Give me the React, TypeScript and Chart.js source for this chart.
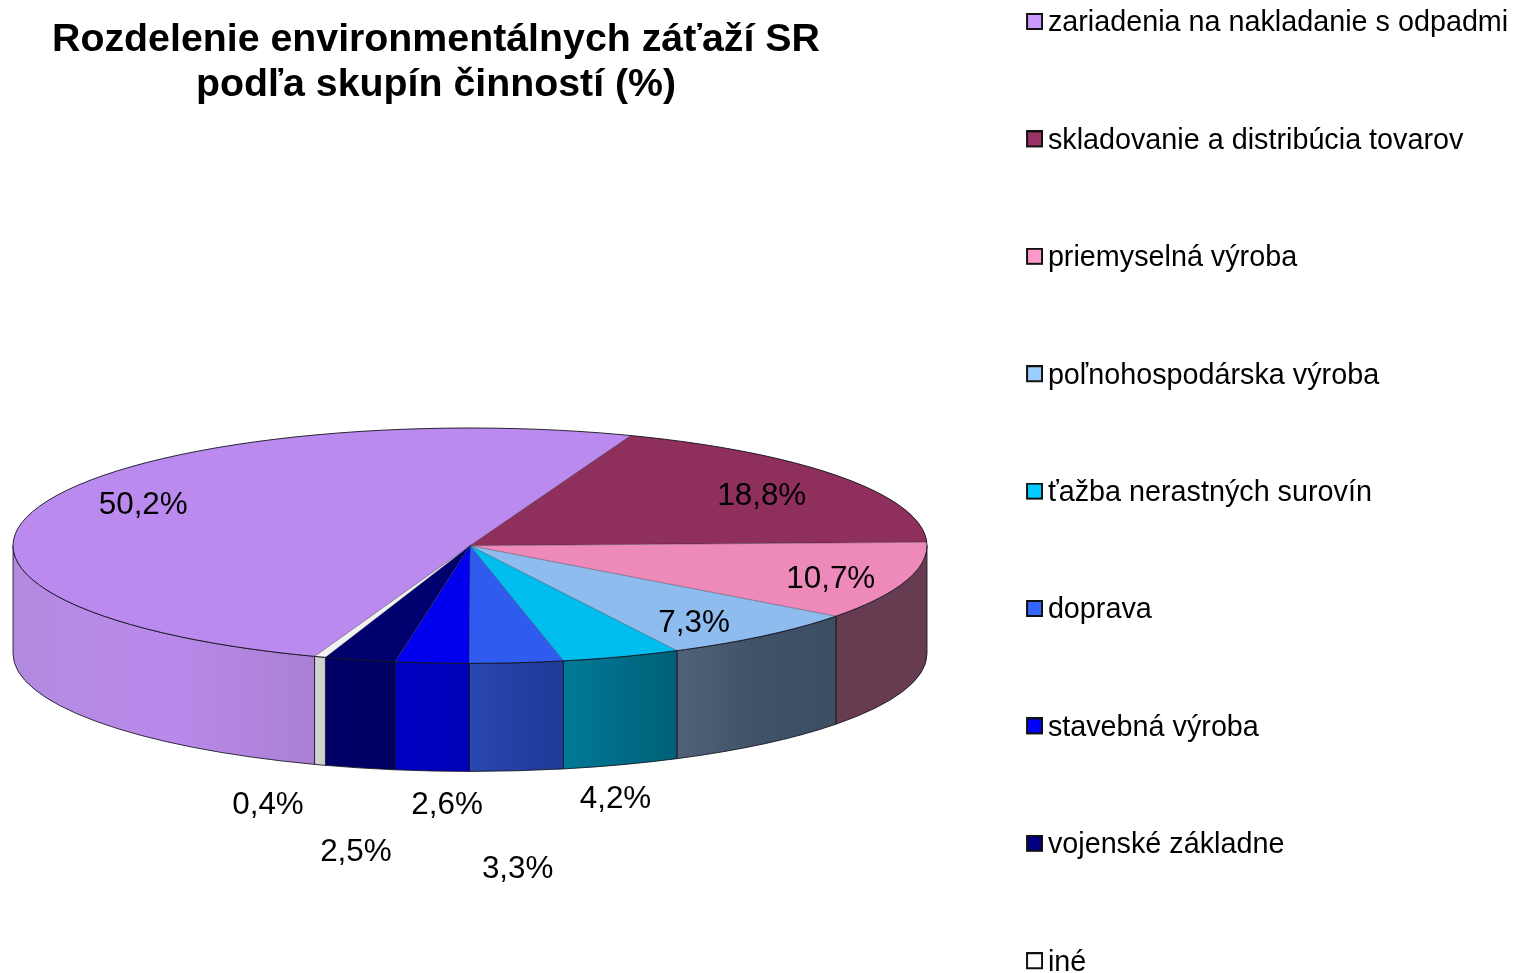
import React, { useEffect, useRef } from "react";
import { Chart, registerables } from "chart.js";

Chart.register(...registerables);

const titleLines = ["Rozdelenie environmentálnych záťaží SR", "podľa skupín činností (%)"];
const categories = [
  "zariadenia na nakladanie s odpadmi",
  "skladovanie a distribúcia tovarov",
  "priemyselná výroba",
  "poľnohospodárska výroba",
  "ťažba nerastných surovín",
  "doprava",
  "stavebná výroba",
  "vojenské základne",
  "iné",
];
const shares = [50.2, 18.8, 10.7, 7.3, 4.2, 3.3, 2.6, 2.5, 0.4];
const valueLabels = ["50,2%", "18,8%", "10,7%", "7,3%", "4,2%", "3,3%", "2,6%", "2,5%", "0,4%"];

const topColors = ["#BA8AEE", "#8E2F5C", "#EE8ABA", "#8FBCEE", "#00BDEE", "#2F5CEE", "#0000EE", "#00006E", "#F2F2F2"];
const legendColors = ["#CC99FF", "#993366", "#FF99CC", "#99CCFF", "#00CCFF", "#3366FF", "#0000FF", "#000080", "#FFFFFF"];
const sideColors = [
  ["#B28AE0", "#B98AEB", "#AA80D4"],
  ["#683C50", "#683C50", "#663A4E"],
  ["#683C50", "#683C50", "#683C50"],
  ["#4F6278", "#3F5268", "#3C4E62"],
  ["#007A96", "#006C88", "#006078"],
  ["#2A48B0", "#243FA4", "#1E3C96"],
  ["#0000C2", "#0000BE", "#0000B8"],
  ["#000068", "#000064", "#000060"],
  ["#D4D4D4", "#D0D0D0", "#CCCCCC"],
];
const labelShiftX = [102, -80, -75, -70, -6, 1, 15, -4, -52];
const labelShiftY = [0, 19, -2, -12, 143, 207, 142, 192, 148];

const PIE = { cx: 470, cy: 545.7, rx: 457, ry: 117.7, depth: 108, rotation: -160.12 };
const FONT = "'Liberation Sans', Arial, sans-serif";
const LEGEND = { x: 1033.5, y: 23.5, step: 117.4, font: 28.75, swatchLift: 2, swatchShift: 1 };
const TITLE = { center: 436, y: 40, font: 39.3, lineHeight: 45 };

const swatch = (fill: string) => {
  const c = document.createElement("canvas");
  c.width = 17 + LEGEND.swatchShift * 2;
  c.height = 17 + LEGEND.swatchLift * 2;
  const g = c.getContext("2d")!;
  const left = LEGEND.swatchShift * 2;
  g.fillStyle = "#111";
  g.fillRect(left, 0, 17, 17);
  g.fillStyle = fill;
  g.fillRect(left + 2, 2, 13, 13);
  return c;
};

const pie3d = {
  id: "pie3d",
  beforeLayout(chart: any) {
    const legend = chart.legend;
    if (legend && !legend.__tall) {
      const update = legend.update.bind(legend);
      legend.update = (w: number, _h: number, m: any) => update(w, 3000, m);
      legend.__tall = true;
    }
  },
  afterLayout(chart: any) {
    const legend = chart.legend;
    const pad = legend.options.labels.padding;
    legend.left = LEGEND.x - pad;
    legend.right = 3000;
    legend.top = LEGEND.y - LEGEND.font / 2 - pad;
    legend.bottom = 5000;
    const t = chart.titleBlock;
    t.left = 0;
    t.right = TITLE.center * 2;
    t.top = TITLE.y - TITLE.lineHeight / 2;
  },
  beforeDatasetsDraw(chart: any) {
    const { ctx } = chart;
    const arcs = chart.getDatasetMeta(0).data;
    const TWO = Math.PI * 2;
    // side wall of every slice, only where it faces the viewer
    arcs.forEach((arc: any, i: number) => {
      for (let k = -1; k <= 1; k++) {
        const a = Math.max(arc.startAngle, TWO * k);
        const b = Math.min(arc.endAngle, TWO * k + Math.PI);
        if (b <= a) continue;
        const x1 = PIE.cx + PIE.rx * Math.cos(a);
        const x2 = PIE.cx + PIE.rx * Math.cos(b);
        const grad = ctx.createLinearGradient(Math.min(x1, x2), 0, Math.max(x1, x2), 0);
        const stops = sideColors[i];
        const ordered = x2 < x1 ? stops : [...stops].reverse();
        ordered.forEach((col: string, n: number) => grad.addColorStop(n / (ordered.length - 1), col));
        ctx.beginPath();
        ctx.ellipse(PIE.cx, PIE.cy, PIE.rx, PIE.ry, 0, a, b);
        ctx.ellipse(PIE.cx, PIE.cy + PIE.depth, PIE.rx, PIE.ry, 0, b, a, true);
        ctx.closePath();
        ctx.fillStyle = grad;
        ctx.fill();
        ctx.strokeStyle = "rgba(20,20,30,0.85)";
        ctx.lineWidth = 1;
        ctx.stroke();
      }
    });
    const arc0 = arcs[0];
    ctx.save();
    ctx.translate(PIE.cx, PIE.cy);
    ctx.scale(1, PIE.ry / PIE.rx);
    ctx.translate(-arc0.x, -arc0.y);
  },
  afterDatasetsDraw(chart: any) {
    const { ctx } = chart;
    ctx.restore();
    const arcs = chart.getDatasetMeta(0).data;
    // outlines of the top face
    ctx.save();
    ctx.lineWidth = 1;
    arcs.forEach((arc: any) => {
      ctx.strokeStyle = "rgba(30,30,40,0.4)";
      ctx.beginPath();
      ctx.moveTo(PIE.cx, PIE.cy);
      ctx.lineTo(PIE.cx + PIE.rx * Math.cos(arc.startAngle), PIE.cy + PIE.ry * Math.sin(arc.startAngle));
      ctx.stroke();
    });
    ctx.strokeStyle = "rgba(20,20,30,0.9)";
    ctx.beginPath();
    ctx.ellipse(PIE.cx, PIE.cy, PIE.rx, PIE.ry, 0, 0, Math.PI * 2);
    ctx.stroke();
    // value labels
    ctx.fillStyle = "#000";
    ctx.font = `31.4px ${FONT}`;
    ctx.textAlign = "center";
    ctx.textBaseline = "middle";
    arcs.forEach((arc: any, i: number) => {
      const mid = (arc.startAngle + arc.endAngle) / 2;
      const x = PIE.cx + PIE.rx * Math.cos(mid) + labelShiftX[i];
      const y = PIE.cy + PIE.ry * Math.sin(mid) + labelShiftY[i];
      ctx.fillText(valueLabels[i], x, y);
    });
    ctx.restore();
  },
};

export default function App() {
  const ref = useRef<HTMLCanvasElement>(null);
  useEffect(() => {
    const swatches = legendColors.map(swatch);
    const chart = new Chart(ref.current!, {
      type: "pie",
      data: {
        labels: categories,
        datasets: [
          {
            data: shares,
            backgroundColor: topColors,
            borderWidth: 0,
            clip: false,
          } as any,
        ],
      },
      options: {
        responsive: false,
        animation: false,
        rotation: PIE.rotation,
        radius: PIE.rx,
        layout: { padding: 0 },
        events: [],
        plugins: {
          tooltip: { enabled: false },
          title: {
            display: true,
            text: titleLines,
            color: "#000",
            padding: 0,
            font: { family: FONT, size: TITLE.font, weight: "bold", lineHeight: TITLE.lineHeight / TITLE.font },
          },
          legend: {
            display: true,
            position: "right",
            align: "start",
            labels: {
              color: "#000",
              font: { family: FONT, size: LEGEND.font },
              padding: LEGEND.step - LEGEND.font,
              usePointStyle: true,
              boxWidth: 0.01,
              generateLabels: (c: any) =>
                (Chart.overrides.doughnut.plugins.legend.labels as any)
                  .generateLabels(c)
                  .map((item: any, i: number) => ({ ...item, pointStyle: swatches[i] })),
            },
          },
        },
      } as any,
      plugins: [pie3d],
    });
    return () => chart.destroy();
  }, []);
  return (
    <canvas
      ref={ref}
      width={1514}
      height={973}
      style={{ position: "absolute", left: 0, top: 0, display: "block" }}
    />
  );
}
